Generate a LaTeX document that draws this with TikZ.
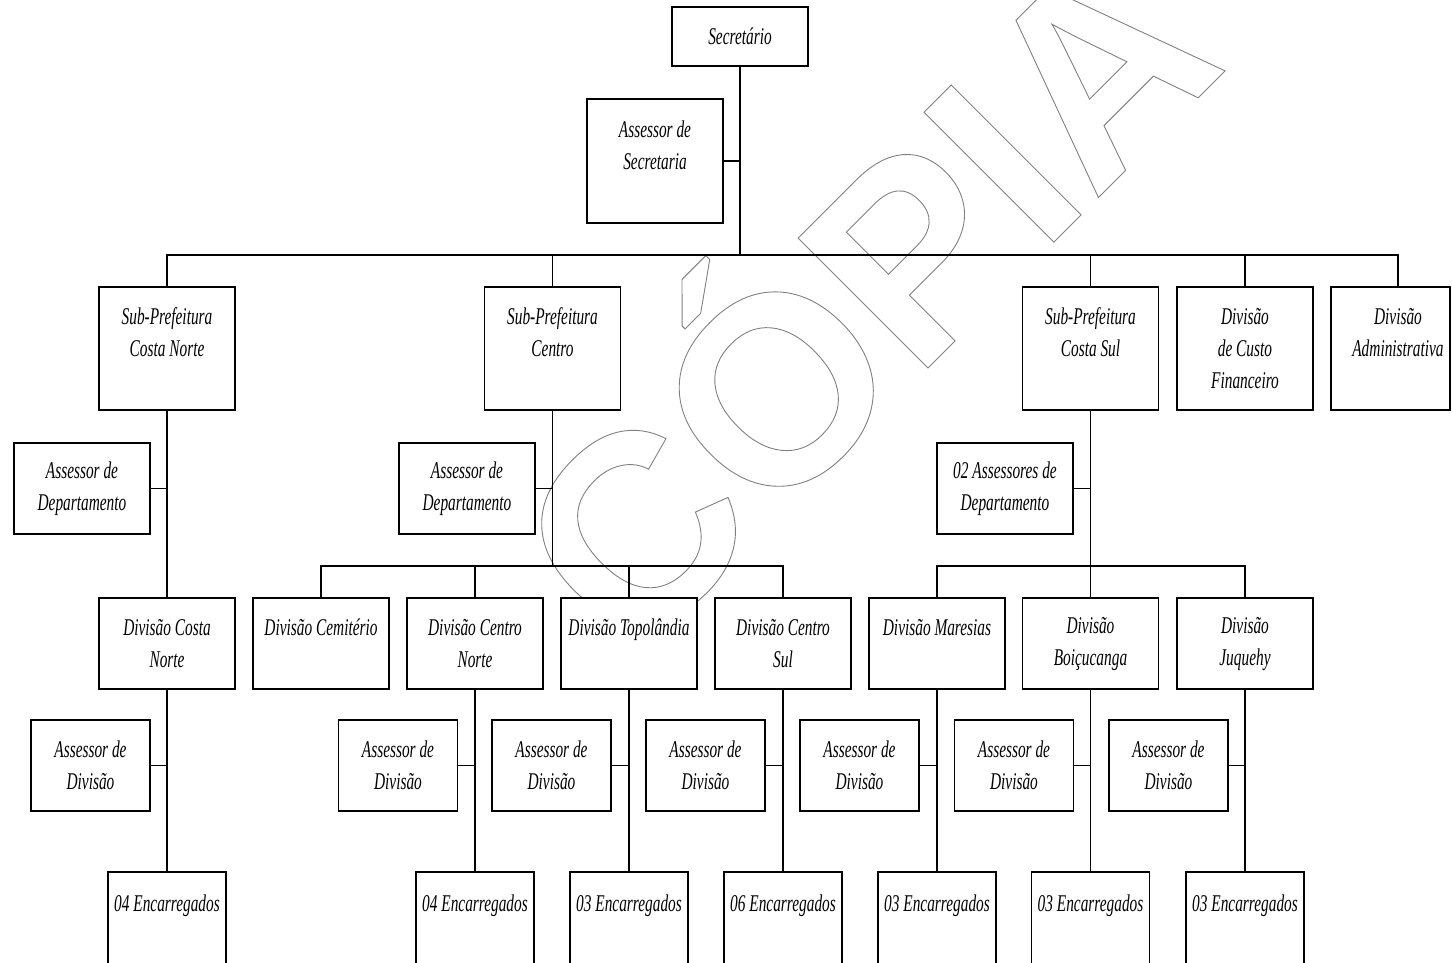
\documentclass[tikz,border=0pt]{standalone}
\usepackage{fontspec}
\setmainfont{Liberation Serif}[FakeStretch=0.64]
\newfontfamily\markfont{Liberation Sans}
\begin{document}
\begin{tikzpicture}[x=1pt,y=-1pt,
  orgbox/.style={draw=black, fill=white, line width=1.3pt, inner sep=0pt,
    align=center, font=\fontsize{24}{32}\selectfont\itshape,
    minimum width=136pt},
  tall/.style={orgbox, minimum height=123pt},
  mid/.style={orgbox, minimum height=91pt},
  aide/.style={orgbox, minimum height=91pt, minimum width=119pt},
  crew/.style={aide, minimum width=118pt, minimum height=95pt},
  link/.style={line width=1.3pt, draw=black}]
\useasboundingbox (0,0) rectangle (1452,962);

% outlined stamp across the chart
\node[rotate=45, anchor=base west, inner sep=0pt, text=black!50,
  font=\markfont\bfseries\fontsize{267}{267}\selectfont] (stamp) at (632,664)
  {\special{pdf:literal 1 Tr 0.9 w}CÓPIA\special{pdf:literal 0 Tr}};

% top of the chart
\node[orgbox, minimum height=59pt] (sec) at (740,36.5) {Secretário};
\node[orgbox, minimum height=124pt] (assec) at (655,161) {Assessor de\\Secretaria\\~};
\coordinate (hub) at (740,255);

% second level
\node[tall] (cn)  at (167,348.5)    {Sub-Prefeitura\\Costa Norte\\~};
\node[tall] (ce)  at (552.5,348.5)  {Sub-Prefeitura\\Centro\\~};
\node[tall] (cs)  at (1090.5,348.5) {Sub-Prefeitura\\Costa Sul\\~};
\node[tall] (cu)  at (1245,348.5)   {Divisão\\de Custo\\Financeiro};
\node[tall, minimum width=119pt] (adm) at (1390.5,348.5)
  {\hspace*{15pt}Divisão\\\hspace*{15pt}Administrativa\\~};
\coordinate (admdrop) at ([xshift=7.5pt]adm.north);

% department advisers
\node[mid] (adcn) at (82,488.5)   {Assessor de\\Departamento};
\node[mid] (adce) at (467,488.5)  {Assessor de\\Departamento};
\node[mid] (adcs) at (1005,488.5) {02 Assessores de\\Departamento};

% divisions
\node[mid] (dcn)  at (167,643.5)    {Divisão Costa\\Norte};
\node[mid] (cem)  at (321,643.5)    {Divisão Cemitério\\~};
\node[mid] (cno)  at (475,643.5)    {Divisão Centro\\Norte};
\node[mid] (dtop) at (629,643.5)    {Divisão Topolândia\\~};
\node[mid] (csu)  at (783,643.5)    {Divisão Centro\\Sul};
\node[mid] (mar)  at (937,643.5)    {Divisão Maresias\\~};
\node[mid] (boi)  at (1090.5,643.5) {Divisão\\Boiçucanga};
\node[mid] (juq)  at (1245,643.5)   {Divisão\\Juquehy};

% division advisers
\node[aide] (a1) at (90.5,765.5)   {Assessor de\\Divisão};
\node[aide] (a2) at (398,765.5)    {Assessor de\\Divisão};
\node[aide] (a3) at (551.5,765.5)  {Assessor de\\Divisão};
\node[aide] (a4) at (705.5,765.5)  {Assessor de\\Divisão};
\node[aide] (a5) at (859.5,765.5)  {Assessor de\\Divisão};
\node[aide] (a6) at (1014,765.5)   {Assessor de\\Divisão};
\node[aide] (a7) at (1168.5,765.5) {Assessor de\\Divisão};

% crews (boxes run past the lower edge)
\node[crew] (e1) at (167,919.5)    {04 Encarregados\\~};
\node[crew] (e2) at (475,919.5)    {04 Encarregados\\~};
\node[crew] (e3) at (629,919.5)    {03 Encarregados\\~};
\node[crew] (e4) at (783,919.5)    {06 Encarregados\\~};
\node[crew] (e5) at (937,919.5)    {03 Encarregados\\~};
\node[crew] (e6) at (1090.5,919.5) {03 Encarregados\\~};
\node[crew] (e7) at (1245,919.5)   {03 Encarregados\\~};

% connectors: top
\draw[link] (sec.south) -- (hub);
\draw[link] (assec.east) -- (assec.east -| sec.south);
\draw[link] (cn.north) |- (admdrop |- hub) -- (admdrop);
\draw[link] (ce.north) -- (ce.north |- hub);
\draw[link] (cs.north) -- (cs.north |- hub);
\draw[link] (cu.north) -- (cu.north |- hub);

% Costa Norte branch
\draw[link] (cn.south) -- (dcn.north);
\draw[link] (adcn.east) -- (adcn.east -| cn.south);

% Centro branch
\coordinate (barce) at (552.5,566);
\draw[link] (ce.south) -- (barce);
\draw[link] (adce.east) -- (adce.east -| ce.south);
\draw[link] (cem.north) |- (csu.north |- barce) -- (csu.north);
\draw[link] (cno.north) -- (cno.north |- barce);
\draw[link] (dtop.north) -- (dtop.north |- barce);

% Costa Sul branch
\coordinate (barcs) at (1090.5,566);
\draw[link] (cs.south) -- (barcs);
\draw[link] (adcs.east) -- (adcs.east -| cs.south);
\draw[link] (mar.north) |- (juq.north |- barcs) -- (juq.north);
\draw[link] (boi.north) -- (boi.north |- barcs);

% divisions to advisers and crews
\foreach \d/\a/\e in {dcn/a1/e1, cno/a2/e2, dtop/a3/e3, csu/a4/e4,
                      mar/a5/e5, boi/a6/e6, juq/a7/e7} {
  \draw[link] (\d.south) -- (\e.north);
  \draw[link] (\a.east) -- (\a.east -| \d.south);
}
\end{tikzpicture}
\end{document}
